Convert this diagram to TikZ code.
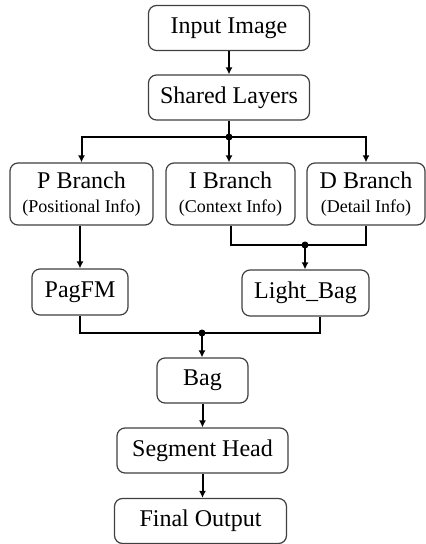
\documentclass[tikz,border=0pt]{standalone}
\usepackage{fontspec}
\setmainfont{Liberation Serif}
\usepackage{tikz}
\usetikzlibrary{calc,positioning,arrows.meta}

\begin{document}
\begin{tikzpicture}[x=0.5pt,y=-0.5pt,
                    box/.style={rectangle,rounded corners=4pt,
                                draw=black!75,line width=0.6pt,fill=white,
                                minimum height=22.5pt,align=center,
                                inner sep=1pt,
                                font=\fontsize{12}{13}\selectfont},
                    branch/.style={box,minimum height=31pt},
                    arr/.style={-{Latex[length=3.5pt,width=3.5pt]},line width=1pt},
                    wire/.style={line width=1pt},
                    dot/.style={circle,fill=black,inner sep=0pt,minimum size=3.5pt}]
  \useasboundingbox (0,0) rectangle (425,544);
  % main column
  \node[box,minimum width=80.5pt] (input) at (229,28) {Input Image};
  \node[box,minimum width=80.5pt] (shared) at (229,97.5) {Shared Layers};
  % three branches
  \node[branch,minimum width=71.5pt] (pbr) at (81.5,194)
    {P Branch\\[-1pt]{\fontsize{9}{11}\selectfont (Positional Info)}};
  \node[branch,minimum width=64.5pt] (ibr) at (230.5,194)
    {I Branch\\[-1pt]{\fontsize{9}{11}\selectfont (Context Info)}};
  \node[branch,minimum width=59pt] (dbr) at (366,194)
    {D Branch\\[-1pt]{\fontsize{9}{11}\selectfont (Detail Info)}};
  % fusion
  \node[box,minimum width=48pt,minimum height=23pt] (pagfm) at (80,292) {PagFM};
  \node[box,minimum width=63.5pt,minimum height=23pt] (lbag) at (305.5,293) {Light\_Bag};
  \node[box,minimum width=45.5pt] (bag) at (202.5,380.5) {Bag};
  \node[box,minimum width=85.5pt] (seghead) at (202.5,450.5) {Segment Head};
  \node[box,minimum width=86pt] (final) at (200.5,521) {Final Output};

  \coordinate (split) at (229,137);
  \coordinate (merge1) at (305,245);
  \coordinate (merge2) at (202,333);

  \draw[arr] (input) -- (shared);
  \draw[wire] (shared) -- (split);
  \draw[arr] (split) -| (pbr.north);
  \draw[arr] (split) -- (ibr.north -| split);
  \draw[arr] (split) -| (dbr.north);
  \node[dot] at (split) {};

  \draw[wire] (ibr.south) |- (merge1);
  \draw[wire] (dbr.south) |- (merge1);
  \draw[arr] (merge1) -- (lbag.north -| merge1);
  \node[dot] at (merge1) {};
  \draw[arr] (pbr.south -| pagfm) -- (pagfm.north);

  \draw[wire] (pagfm.south) |- (merge2);
  \draw[wire] ([xshift=7.25pt]lbag.south) |- (merge2);
  \draw[arr] (merge2) -- (bag.north -| merge2);
  \node[dot] at (merge2) {};

  \draw[arr] (bag) -- (seghead);
  \draw[arr] (seghead.south) -- (final.north -| seghead.south);
\end{tikzpicture}
\end{document}
